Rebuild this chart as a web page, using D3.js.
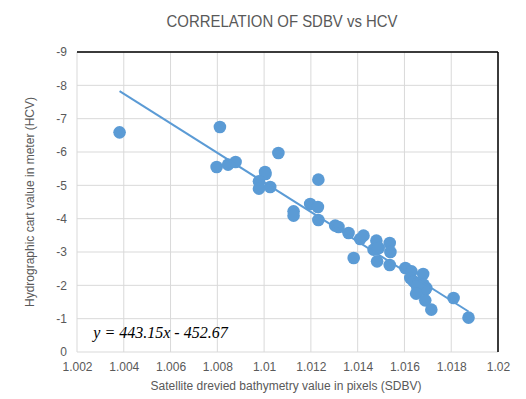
<!DOCTYPE html>
<meta charset="utf-8">
<style>
body { margin: 0; background: #fff; }
text { font-family: "Liberation Sans", Arial, sans-serif; fill: #595959; }
.grid line { stroke: #d9d9d9; stroke-width: 1; }
.axis path, .axis line { display: none; }
.axis text { font-size: 12px; fill: #595959; }
.dot { fill: #5b9bd5; }
.trend { fill: none; stroke: #5b9bd5; stroke-width: 2px; }
</style>
<svg width="526" height="399"></svg>
<script src="https://d3js.org/d3.v7.min.js"></script>
<script>
// SDBV (pixels)
var sdbv = [1.00382, 1.00811, 1.00797, 1.00846, 1.00878, 1.01061, 1.01004, 1.01006,
  1.00978, 1.00978, 1.01026, 1.01126, 1.01126, 1.01197, 1.01232, 1.01230, 1.01232,
  1.01304, 1.01318, 1.01361, 1.01383, 1.01411, 1.01425, 1.01480, 1.01468, 1.01490,
  1.01483, 1.01537, 1.01540, 1.01537, 1.01604, 1.01630, 1.01680, 1.01625, 1.01639,
  1.01660, 1.01682, 1.01693, 1.01689, 1.01654, 1.01650, 1.01689, 1.01715, 1.01810,
  1.01874];
// HCV (meters)
var hcv = [-6.59, -6.75, -5.55, -5.62, -5.70, -5.97, -5.40, -5.34,
  -5.12, -4.90, -4.95, -4.22, -4.09, -4.44, -5.17, -4.35, -3.96,
  -3.79, -3.75, -3.57, -2.82, -3.39, -3.49, -3.34, -3.07, -3.12,
  -2.72, -3.27, -3.00, -2.61, -2.52, -2.42, -2.34, -2.22, -2.12,
  -2.07, -2.02, -1.92, -1.87, -1.97, -1.75, -1.55, -1.27, -1.62,
  -1.03];
// trendline from the label on the chart
var slope = 443.15, intercept = -452.67;
var xTicks = [1.002, 1.004, 1.006, 1.008, 1.01, 1.012, 1.014, 1.016, 1.018, 1.02];
var yTicks = [0, -1, -2, -3, -4, -5, -6, -7, -8, -9];

var svg = d3.select("svg"),
    margin = {top: 52, right: 28, bottom: 47, left: 77},
    width = +svg.attr("width") - margin.left - margin.right,
    height = +svg.attr("height") - margin.top - margin.bottom,
    g = svg.append("g").attr("transform", "translate(" + margin.left + "," + margin.top + ")");

var x = d3.scaleLinear().domain([1.002, 1.02]).range([0, width]);
// reversed: 0 at the bottom, -9 at the top
var y = d3.scaleLinear().domain([0, -9]).range([height, 0]);

g.append("g").attr("class", "grid")
  .selectAll("line").data(yTicks).enter().append("line")
    .attr("x1", 0).attr("x2", width)
    .attr("y1", function(d) { return y(d); }).attr("y2", function(d) { return y(d); });

g.append("g").attr("class", "grid")
  .selectAll("line").data(xTicks).enter().append("line")
    .attr("y1", 0).attr("y2", height)
    .attr("x1", function(d) { return x(d); }).attr("x2", function(d) { return x(d); });

// black axis line on top and border on the right
g.append("line").attr("x1", 0).attr("x2", width).attr("y1", 0).attr("y2", 0)
  .attr("stroke", "#000").attr("stroke-width", 1.5);
g.append("line").attr("x1", width).attr("x2", width).attr("y1", 0).attr("y2", height)
  .attr("stroke", "#000").attr("stroke-width", 1.5);

g.append("g")
  .attr("class", "axis")
  .attr("transform", "translate(0," + height + ")")
  .call(d3.axisBottom(x).tickValues(xTicks).tickSize(0).tickPadding(10)
    .tickFormat(function(d) { return String(+d.toFixed(3)); }));

g.append("g")
  .attr("class", "axis")
  .call(d3.axisLeft(y).tickValues(yTicks).tickSize(0).tickPadding(10)
    .tickFormat(function(d) { return String(d); }));

var data = sdbv.map(function(v, i) { return {x: v, y: hcv[i]}; });

g.selectAll(".dot").data(data).enter().append("circle")
  .attr("class", "dot")
  .attr("r", 6.3)
  .attr("cx", function(d) { return x(d.x); })
  .attr("cy", function(d) { return y(d.y); });

var ext = d3.extent(sdbv);
var line = d3.line()
  .x(function(d) { return x(d); })
  .y(function(d) { return y(slope * d + intercept); });

g.append("path")
  .datum(ext)
  .attr("class", "trend")
  .attr("d", line);

g.append("text")
  .attr("x", x(1.0027)).attr("y", y(-0.43))
  .style("font-family", "'Liberation Serif', 'DejaVu Serif', serif")
  .style("font-style", "italic")
  .style("font-size", "16px")
  .style("fill", "#000")
  .text("y = 443.15x - 452.67");

svg.append("text")
  .attr("x", 282).attr("y", 27)
  .attr("text-anchor", "middle")
  .attr("textLength", 231)
  .attr("lengthAdjust", "spacingAndGlyphs")
  .style("font-size", "17px")
  .text("CORRELATION OF SDBV vs HCV");

svg.append("text")
  .attr("x", 286).attr("y", 390)
  .attr("text-anchor", "middle")
  .style("font-size", "12px")
  .text("Satellite drevied bathymetry value in pixels (SDBV)");

svg.append("text")
  .attr("transform", "translate(34," + (margin.top + height / 2) + ") rotate(-90)")
  .attr("text-anchor", "middle")
  .style("font-size", "12px")
  .text("Hydrographic cart value in meter (HCV)");
</script>
